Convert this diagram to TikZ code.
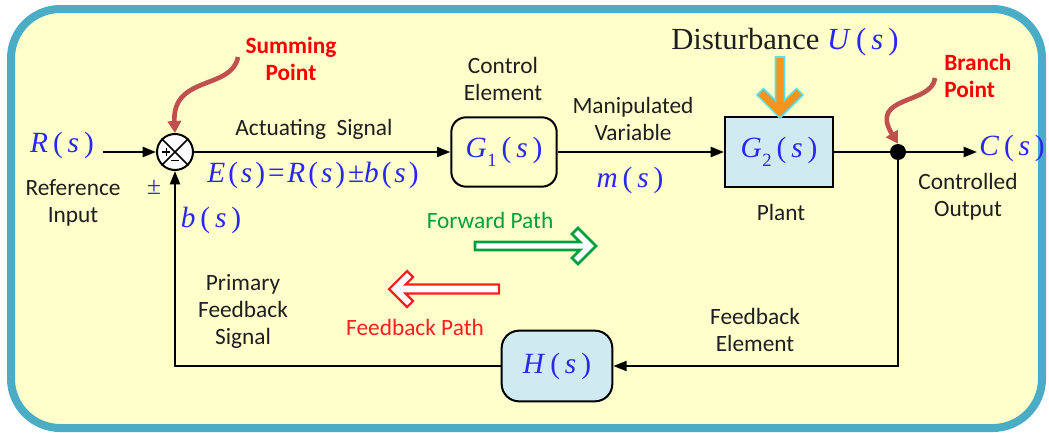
\documentclass[tikz,border=0pt]{standalone}
\usepackage{fontspec}
\setsansfont{Carlito}
\newfontfamily\mfont{Liberation Serif}
\usetikzlibrary{arrows.meta}
\definecolor{frameblue}{RGB}{75,172,198}
\definecolor{bgyellow}{RGB}{255,255,204}
\definecolor{boxblue}{RGB}{208,234,242}
\definecolor{mblue}{RGB}{40,40,240}
\definecolor{txtgray}{RGB}{30,30,30}
\definecolor{ptred}{RGB}{250,0,0}
\definecolor{brownred}{RGB}{192,80,77}
\definecolor{fwdgreen}{RGB}{0,160,60}
\definecolor{fbred}{RGB}{255,30,30}
\definecolor{dorange}{RGB}{247,148,29}
\definecolor{dcyan}{RGB}{90,225,235}
\newcommand\fnx[2]{\textit{#1}\,(\,\textit{#2}\,)}
\newcommand\fny[2]{\textit{#1}\kern0.1em(\kern0.1em\textit{#2}\kern0.1em)}
\newcommand\Gsub[1]{\textit{G}\kern0.02em\raisebox{-0.3em}{\fontsize{14}{14}\selectfont #1}}
\tikzset{
  lbl/.style={font=\sffamily\fontsize{17.5}{20.25}\selectfont, text=txtgray, align=center, inner sep=0pt},
  rlbl/.style={font=\sffamily\bfseries\fontsize{17.5}{20.25}\selectfont, text=ptred, inner sep=0pt},
  mth/.style={font=\mfont\fontsize{22}{24}\selectfont, text=mblue, inner sep=0pt},
  conn/.style={line width=1.5pt, -{Triangle[length=10pt,width=7.5pt]}},
  plainline/.style={line width=1.5pt},
  curv/.style={line width=3.5pt, brownred, -{Triangle[length=9pt,width=10pt]}},
  blockbox/.style={draw, line width=1.5pt, minimum width=79pt, minimum height=52pt, inner sep=0pt, font=\mfont\fontsize{22}{24}\selectfont, text=mblue}
}
\begin{document}
\begin{tikzpicture}[x=0.75pt,y=-0.75pt]
\useasboundingbox (0,0) rectangle (1049,432);
\fill[white] (0,0) rectangle (1049,432);
\draw[frameblue, line width=6pt, fill=bgyellow, rounded corners=37pt] (11,9) rectangle (1042,428);

% blocks
\node[circle, draw, line width=1.5pt, fill=white, minimum size=27pt, inner sep=0pt] (sum) at (175,152) {};
\draw[line width=1.2pt] (sum.north west) -- (sum.south east) (sum.north east) -- (sum.south west);
\draw[line width=1.2pt] ([xshift=-9.5pt]sum.center) -- ++(6pt,0) ([xshift=-6.5pt,yshift=3pt]sum.center) -- ++(0,-6pt);
\draw[line width=1.2pt] ([xshift=-3pt,yshift=-6.5pt]sum.center) -- ++(6pt,0);

\node[blockbox, fill=bgyellow, rounded corners=11pt] (G1) at (504,152) {\Gsub{1}\,(\,\textit{s}\,)};
\node[blockbox, fill=boxblue, minimum width=81pt] (G2) at (779,152) {\Gsub{2}\,(\,\textit{s}\,)};
\node[blockbox, fill=boxblue, rounded corners=13pt, minimum width=83pt, minimum height=53pt] (H) at (557,366) {\fnx{H}{s}};
\node[circle, fill=black, minimum size=12pt, inner sep=0pt] (dot) at (898,152) {};

\coordinate (rin) at (103,152);
\coordinate (cend) at (977,152);
\coordinate (spc) at (238,57);
\coordinate (bpc) at (935,78);

% connectors
\draw[conn] (rin) -- (sum.west);
\draw[conn] (sum.east) -- (G1.west);
\draw[conn] (G1.east) -- (G2.west);
\draw[plainline] (G2.east) -- (dot);
\draw[conn] (dot) -- (cend);
\draw[conn] (dot) |- (H.east);
\draw[conn] (H.west) -| (sum.south);

% curved pointer arrows
\draw[curv] (spc) .. controls (232,90) and (172,75) .. (sum.north);
\draw[curv] (bpc) .. controls (932,105) and (868,95) .. (dot.north);

% disturbance arrow
\filldraw[fill=dorange, draw=dcyan, line width=1.3pt, line join=miter]
  (775.5,57) -- (775.5,100.5) -- (763.5,88.5) -- (757,95) -- (780,118) -- (803,95) -- (796.5,88.5) -- (784.5,100.5) -- (784.5,57) -- cycle;

% forward / feedback path arrows
\filldraw[fill=white, draw=fwdgreen, line width=1.9pt, line join=miter]
  (475,242) -- (580,242) -- (572,234) -- (578,228) -- (596,246) -- (578,264) -- (572,258) -- (580,250) -- (475,250) -- cycle;
\filldraw[fill=white, draw=fbred, line width=1.6pt, line join=miter]
  (499,284.5) -- (405.5,284.5) -- (413,277) -- (407,271) -- (389,289) -- (407,307) -- (413,301) -- (405.5,293.5) -- (499,293.5) -- cycle;

% texts
\node[mth] (Rs) at (62,145) {\fnx{R}{s}};
\node[lbl] (refin) at (73,203) {Reference\\Input};
\node[mth, font=\mfont\fontsize{19}{20}\selectfont] (pm) at (154,187) {±};
\node[mth] (bs) at (211,220) {\fnx{b}{s}};
\node[mth] (Es) at (313,175) {\fny{E}{s}\kern0.1em=\kern0.1em\fny{R}{s}\kern0.1em±\fny{b}{s}};
\node[lbl] (act) at (314,129) {Actuating\ \ Signal};
\node[lbl] (ctl) at (503,79) {Control\\Element};
\node[lbl] (manip) at (633,119) {Manipulated\\Variable};
\node[mth] (ms) at (630,180) {\fnx{m}{s}};
\node[lbl] (plant) at (781,212) {Plant};
\node[font=\mfont\fontsize{23}{24}\selectfont, text=txtgray, inner sep=0pt] (dist) at (785,42) {Disturbance \textcolor{mblue}{\fnx{U}{s}}};
\node[mth] (Cs) at (1012,148) {\fnx{C}{s}};
\node[lbl] (cout) at (968,197) {Controlled\\Output};
\node[rlbl, align=left, anchor=west] (bp) at (944,76) {Branch\\Point};
\node[rlbl, align=center] (sp) at (291,59) {Summing\\Point};
\node[lbl] (fbe) at (755,330) {Feedback\\Element};
\node[lbl] (pfs) at (243,311) {Primary\\Feedback\\Signal};
\node[lbl, text=fwdgreen] (fwd) at (490,220) {Forward Path};
\node[lbl, text=fbred] (fbp) at (415,327) {Feedback Path};
\end{tikzpicture}
\end{document}
